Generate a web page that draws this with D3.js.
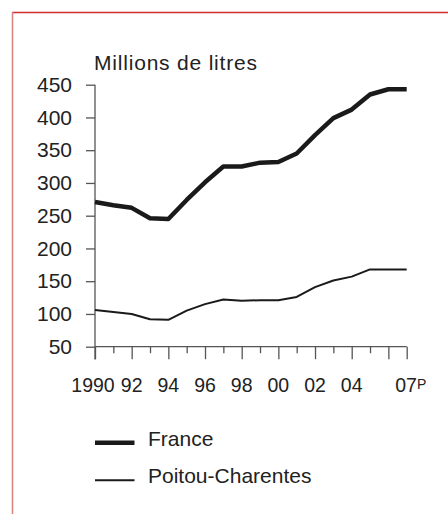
<!DOCTYPE html>
<html><head><meta charset="utf-8">
<script src="https://cdn.jsdelivr.net/npm/d3@7"></script>
<style>
html,body{margin:0;padding:0;background:#fff;}
svg{display:block;}
text{font-family:"Liberation Sans",Arial,Helvetica,sans-serif;fill:#222;}
</style></head>
<body><svg id="c" width="448" height="514"></svg>
<script>
const years = [1990,1991,1992,1993,1994,1995,1996,1997,1998,1999,2000,2001,2002,2003,2004,2005,2006,2007];
const france = [271,266,262,246,245,274,301,325,325,331,332,345,373,399,412,435,443,443];
const poitou = [106,103,100,92,91,105,115,122,120,121,121,126,141,151,157,168,168,168];
const yTicks = [50,100,150,200,250,300,350,400,450];
const majorYears = [1990,1992,1994,1996,1998,2000,2002,2004,2006,2007];
const xLabels = [[1990,"1990"],[1992,"92"],[1994,"94"],[1996,"96"],[1998,"98"],[2000,"00"],[2002,"02"],[2004,"04"],[2007,"07"]];
const seriesNames = ["France","Poitou-Charentes"];
const unitLabel = "Millions de litres";

const svg = d3.select("#c");
// frame
svg.append("line").attr("x1",12).attr("x2",448).attr("y1",12.5).attr("y2",12.5).attr("stroke","#d22b2b").attr("stroke-width",1.5);
svg.append("line").attr("x1",12.5).attr("x2",12.5).attr("y1",12).attr("y2",514).attr("stroke","#d98080").attr("stroke-width",1.5);

const x = d3.scaleLinear().domain([1990,2007]).range([95,406.7]);
const y = d3.scaleLinear().domain([50,450]).range([346.7,84.7]);
const axisColor = "#555";

// y axis
const ya = svg.append("g").attr("transform","translate(95,0)")
  .call(d3.axisLeft(y).tickValues(yTicks).tickSize(9).tickPadding(14).tickFormat(d3.format("d")));
ya.select(".domain").remove();
ya.selectAll("line").attr("stroke",axisColor).attr("stroke-width",1.3);
ya.selectAll("text").attr("font-size",21).attr("fill","#222").attr("font-family","Liberation Sans, Arial, sans-serif");
svg.append("line").attr("x1",95).attr("x2",95).attr("y1",y(450)).attr("y2",359.5).attr("stroke",axisColor).attr("stroke-width",1.3);

// x axis
svg.append("line").attr("x1",x(1990)).attr("x2",x(2007)).attr("y1",y(50)).attr("y2",y(50)).attr("stroke",axisColor).attr("stroke-width",1.3);
const xa = svg.append("g").attr("transform",`translate(0,${y(50)})`)
  .call(d3.axisBottom(x).tickValues(years).tickSize(6).tickFormat(""));
xa.select(".domain").remove();
xa.selectAll(".tick line").attr("stroke",axisColor).attr("stroke-width",1.3)
  .attr("y2",d=>majorYears.includes(d)?12.5:6.5);
const xl = svg.append("g");
xLabels.forEach(([yr,lab])=>{
  const t = xl.append("text").attr("x",x(yr)).attr("y",391.5).attr("text-anchor","middle").attr("font-size",19.5).text(lab);
  if(yr===1990) t.attr("dx",-2);
  if(yr===2007){
    t.append("tspan").attr("font-size",14).attr("dy",-3).text("P");
    t.attr("text-anchor","start").attr("x",x(yr)-11.5);
  }
});

svg.append("text").attr("x",94).attr("y",70).attr("font-size",21).attr("letter-spacing",0.8).text(unitLabel);

const line = d3.line().x((d,i)=>x(years[i])).y(d=>y(d));
svg.append("path").datum(france).attr("d",line).attr("fill","none").attr("stroke","#1a1a1a").attr("stroke-width",4.5).attr("stroke-linejoin","round");
svg.append("path").datum(poitou).attr("d",line).attr("fill","none").attr("stroke","#1a1a1a").attr("stroke-width",2).attr("stroke-linejoin","round");

// legend
const leg = [[seriesNames[0],4.5,442.7,445.5],[seriesNames[1],2,480.3,482.5]];
leg.forEach(([name,w,ly,ty])=>{
  svg.append("line").attr("x1",95).attr("x2",134.5).attr("y1",ly).attr("y2",ly).attr("stroke","#1a1a1a").attr("stroke-width",w);
  svg.append("text").attr("x",148).attr("y",ty).attr("font-size",21).text(name);
});
</script></body></html>
